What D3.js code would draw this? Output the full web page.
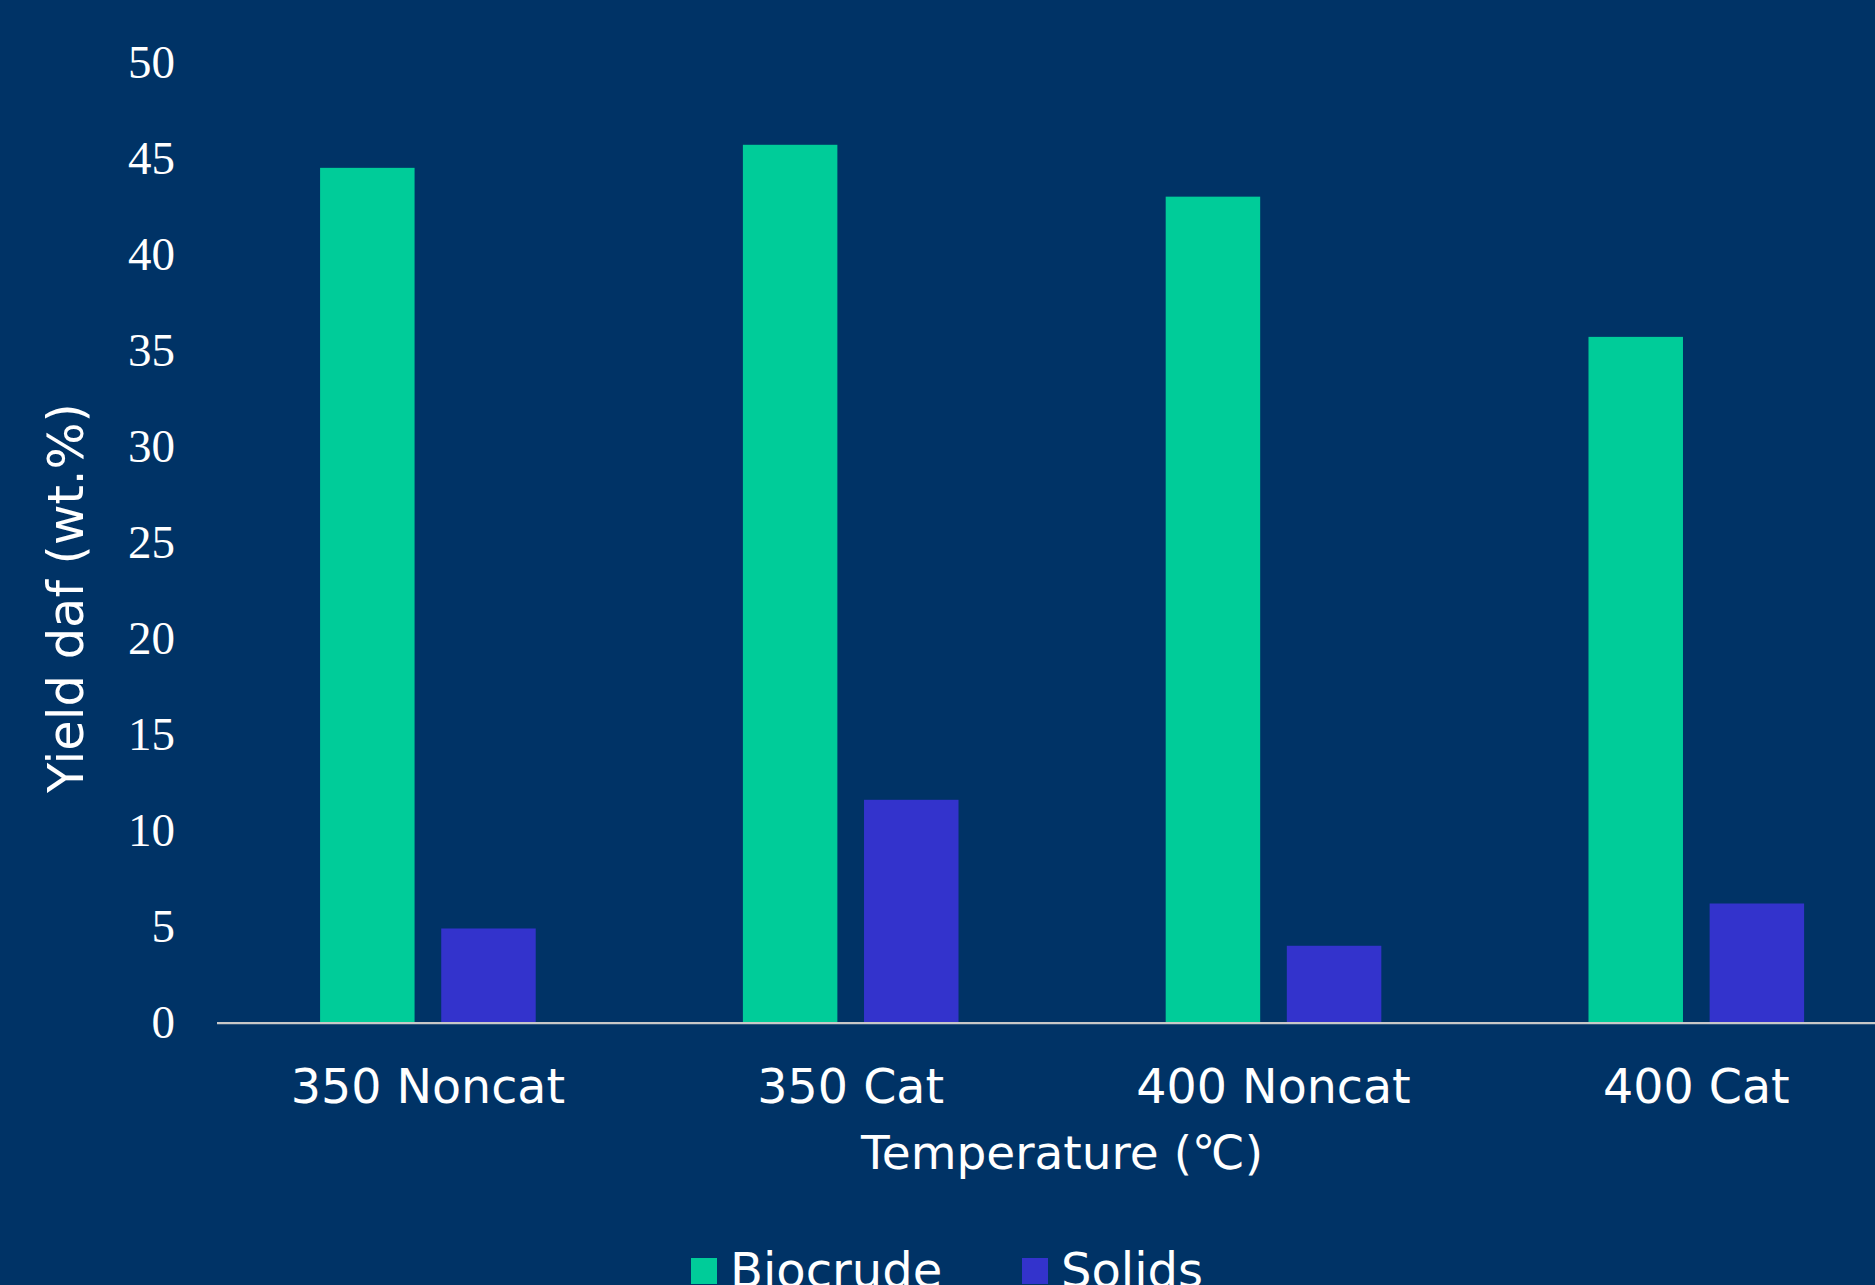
<!DOCTYPE html>
<html>
<head>
<meta charset="utf-8">
<script src="https://cdn.jsdelivr.net/npm/d3@7"></script>
<style>
  html, body { margin: 0; padding: 0; background: #003366; overflow: hidden; }
</style>
</head>
<body>
<div id="chart"></div>
<script>

// data
const categories = ["350 Noncat", "350 Cat", "400 Noncat", "400 Cat"];
const seriesNames = ["Biocrude", "Solids"];
const biocrude = [44.5, 45.7, 43.0, 35.7];
const solids = [4.9, 11.6, 4.0, 6.2];
const yTicks = [0, 5, 10, 15, 20, 25, 30, 35, 40, 45, 50];

const colours = ["#00CC99", "#3333CC"];

const width = 1875;
const height = 1285;

// plot area runs past the right edge, as in the original
const plotLeft = 216.5;
const plotRight = 1907.7;
const plotTop = 62.2;
const plotBottom = 1022.6;

let rows = categories.map((c, i) => ({ cat: c, values: [biocrude[i], solids[i]] }));

let svg = d3.select("#chart")
    .append("svg")
    .attr("width", width)
    .attr("height", height);

svg.append("rect")
    .attr("width", width)
    .attr("height", height)
    .attr("fill", "#003366");

let xScale = d3.scaleBand()
    .domain(categories)
    .range([plotLeft, plotRight])
    .paddingInner(0.49)
    .paddingOuter(0.245);

let xSub = d3.scaleBand()
    .domain(seriesNames)
    .range([0, xScale.bandwidth()])
    .paddingInner(0.22);

let yScale = d3.scaleLinear()
    .domain([0, 50])
    .range([plotBottom, plotTop]);

// bars
svg.selectAll("g.group")
    .data(rows)
    .join("g")
    .attr("class", "group")
    .attr("transform", d => `translate(${xScale(d.cat)},0)`)
    .selectAll("rect")
    .data(d => d.values.map((v, j) => ({ name: seriesNames[j], value: v, j: j })))
    .join("rect")
    .attr("x", d => xSub(d.name))
    .attr("width", xSub.bandwidth())
    .attr("y", d => yScale(d.value))
    .attr("height", d => yScale(0) - yScale(d.value))
    .attr("fill", d => colours[d.j]);

// y axis: labels only
let yAxis = d3.axisLeft(yScale)
    .tickValues(yTicks)
    .tickSize(0)
    .tickPadding(0);

let yg = svg.append("g")
    .attr("transform", `translate(175, 0)`)
    .call(yAxis);

yg.select(".domain").remove();
yg.selectAll("text")
    .attr("fill", "#ffffff")
    .attr("dy", "0.32em")
    .style("font-family", "'Liberation Serif', 'Times New Roman', serif")
    .style("font-size", "47px");

// x axis: baseline and category labels
let xAxis = d3.axisBottom(xScale)
    .tickSize(0)
    .tickPadding(0);

let xg = svg.append("g")
    .attr("transform", `translate(0, ${plotBottom})`)
    .call(xAxis);

xg.select(".domain")
    .attr("stroke", "#C8C8C8")
    .attr("stroke-width", 2.4);

xg.selectAll("text")
    .attr("fill", "#ffffff")
    .attr("y", 80)
    .attr("dy", 0)
    .style("font-family", "'DejaVu Sans', Verdana, sans-serif")
    .style("font-size", "47.5px");

// axis titles
svg.append("text")
    .attr("x", (plotLeft + plotRight) / 2)
    .attr("y", 1169)
    .attr("text-anchor", "middle")
    .attr("fill", "#ffffff")
    .style("font-family", "'DejaVu Sans', Verdana, sans-serif")
    .style("font-size", "47px")
    .text("Temperature (\u2103)");

svg.append("text")
    .attr("transform", "translate(83, 598) rotate(-90)")
    .attr("text-anchor", "middle")
    .attr("fill", "#ffffff")
    .style("font-family", "'DejaVu Sans', Verdana, sans-serif")
    .style("font-size", "49.5px")
    .text("Yield daf (wt.%)");

// legend, cut off at the bottom edge like the original
let legendX = [691, 1022];

let legend = svg.selectAll("g.legend")
    .data(seriesNames)
    .join("g")
    .attr("class", "legend")
    .attr("transform", (d, i) => `translate(${legendX[i]}, 1258)`);

legend.append("rect")
    .attr("width", 26)
    .attr("height", 26)
    .attr("fill", (d, i) => colours[i]);

legend.append("text")
    .attr("x", 39)
    .attr("y", 29)
    .attr("fill", "#ffffff")
    .style("font-family", "'DejaVu Sans', Verdana, sans-serif")
    .style("font-size", "48px")
    .text(d => d);

</script>
</body>
</html>
